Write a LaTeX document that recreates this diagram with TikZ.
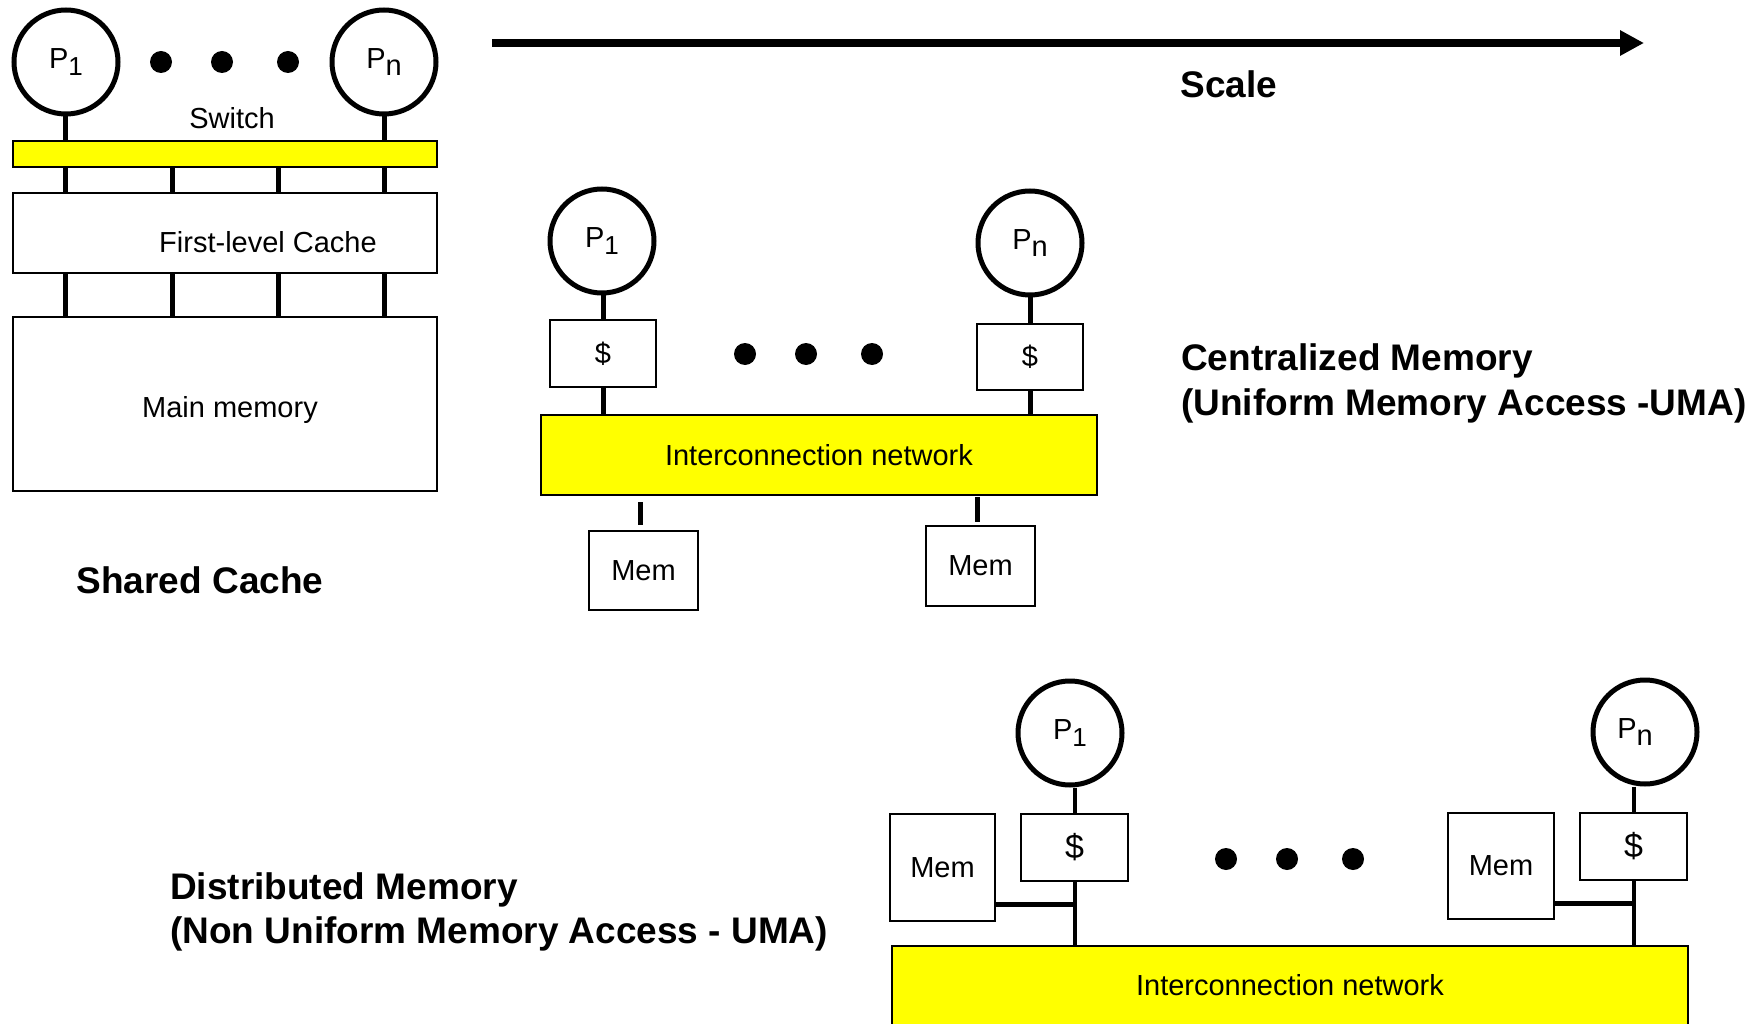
\documentclass[tikz,border=0pt]{standalone}
\usepackage{fontspec}
\setmainfont{Liberation Sans}
\usetikzlibrary{arrows.meta}
\definecolor{netyellow}{RGB}{255,255,0}
\newcommand\regfont{\fontsize{29}{34}\selectfont}
\newcommand\bigfont{\fontsize{34}{40}\selectfont}
\newcommand\ttlfont{\fontsize{37}{45}\selectfont\bfseries}
\newcommand\Pone{P\raisebox{-7pt}{\fontsize{26}{26}\selectfont 1}}
\newcommand\Pnn{P\raisebox{-7pt}{n}}
\tikzset{
  proc/.style={circle, draw, line width=5pt, minimum size=104pt, inner sep=0pt, font=\regfont},
  box/.style={draw, line width=1.5pt, inner sep=0pt, font=\regfont},
  net/.style={box, fill=netyellow},
  wire/.style={line width=5pt},
  thinwire/.style={line width=4pt},
  dot/.style={circle, fill=black, minimum size=22pt, inner sep=0pt},
  lbl/.style={font=\regfont, inner sep=0pt},
  title/.style={font=\ttlfont, inner sep=0pt, anchor=base west},
}
\begin{document}
\begin{tikzpicture}[x=1pt, y=-1pt]
\useasboundingbox (0,0) rectangle (1764,1024);

% ---- shared cache ----
\node[proc] (sp1) at (66,62) {\Pone};
\node[proc] (spn) at (384,62) {\Pnn};
\node[dot] (sd1) at (161,62) {};
\node[dot] (sd2) at (222,62) {};
\node[dot] (sd3) at (288,62) {};
\node[lbl] (swtxt) at (232,118) {Switch};
\node[net, minimum width=424pt, minimum height=26pt] (sw) at (225,154) {};
\node[box, minimum width=424pt, minimum height=80pt] (l1) at (225,233) {};
\node[lbl] (l1txt) at (268,242) {First-level Cache};
\node[box, minimum width=424pt, minimum height=174pt] (mm) at (225,404) {};
\node[lbl] (mmtxt) at (230,410) {Main memory};
\node[font=\ttlfont, inner sep=0pt] (sctitle) at (200,580) {Shared Cache};

\coordinate (t1) at (65,0);
\coordinate (t2) at (172,0);
\coordinate (t3) at (278,0);
\coordinate (t4) at (384,0);
\draw[wire] (t1 |- sp1.south) -- (t1 |- sw.north);
\draw[wire] (t4 |- spn.south) -- (t4 |- sw.north);
\foreach \t in {t1,t2,t3,t4}{
  \draw[wire] (\t |- sw.south) -- (\t |- l1.north);
  \draw[wire] (\t |- l1.south) -- (\t |- mm.north);
}

% ---- scale arrow ----
\coordinate (sa) at (492,43);
\coordinate (sb) at (1644,43);
\draw[line width=8pt, -{Triangle[length=24pt, width=24pt]}] (sa) -- (sb);
\node[font=\ttlfont, inner sep=0pt] (scale) at (1229,84) {Scale};

% ---- centralized memory ----
\node[proc] (cp1) at (602,241) {\Pone};
\node[proc] (cpn) at (1030,243) {\Pnn};
\node[box, minimum width=106pt, minimum height=67pt] (cc1) at (603,353.5) {\$};
\node[box, minimum width=106pt, minimum height=66pt] (ccn) at (1030,357) {\$};
\node[dot] (cd1) at (745,354) {};
\node[dot] (cd2) at (806,354) {};
\node[dot] (cd3) at (872,354) {};
\node[net, minimum width=556pt, minimum height=80pt] (cnet) at (819,455) {Interconnection network};
\node[box, minimum width=109pt, minimum height=79pt] (cm1) at (643.5,570.5) {Mem};
\node[box, minimum width=109pt, minimum height=80pt] (cmn) at (980.5,566) {Mem};
\draw[wire] (cc1.north |- cp1.south) -- (cc1.north);
\draw[wire] (cc1.south) -- (cc1.south |- cnet.north);
\draw[wire] (ccn.north |- cpn.south) -- (ccn.north);
\draw[wire] (ccn.south) -- (ccn.south |- cnet.north);
\coordinate (cw1a) at (640,502);
\coordinate (cw1b) at (640,525);
\coordinate (cwna) at (977,497);
\coordinate (cwnb) at (977,522);
\draw[wire] (cw1a) -- (cw1b);
\draw[wire] (cwna) -- (cwnb);
\node[title] (ctitle1) at (1181,370) {Centralized Memory};
\node[title] (ctitle2) at (1181,415) {(Uniform Memory Access -UMA)};

% ---- distributed memory ----
\node[proc] (dp1) at (1070,733) {\Pone};
\node[proc] (dpn) at (1645,732) {\hspace*{-20pt}\Pnn};
\node[box, minimum width=107pt, minimum height=67pt, font=\bigfont] (dc1) at (1074.5,847.5) {\$};
\node[box, minimum width=107pt, minimum height=67pt, font=\bigfont] (dcn) at (1633.5,846.5) {\$};
\node[box, minimum width=105pt, minimum height=107pt] (dm1) at (942.5,867.5) {Mem};
\node[box, minimum width=106pt, minimum height=106pt] (dmn) at (1501,866) {Mem};
\node[dot] (dd1) at (1226,859) {};
\node[dot] (dd2) at (1287,859) {};
\node[dot] (dd3) at (1353,859) {};
\node[net, minimum width=796pt, minimum height=110pt] (dnet) at (1290,1001) {};
\node[lbl] (dnettxt) at (1290,985) {Interconnection network};
\draw[thinwire] (dc1.north |- dp1.south) -- (dc1.north);
\draw[thinwire] (dc1.south) -- (dc1.south |- dnet.north);
\draw[thinwire] (dcn.north |- dpn.south) -- (dcn.north);
\draw[thinwire] (dcn.south) -- (dcn.south |- dnet.north);
\draw[wire] (dm1.east |- 0,904) -- (dc1.south |- 0,904);
\draw[wire] (dmn.east |- 0,903) -- (dcn.south |- 0,903);
\node[title] (dtitle1) at (170,899) {Distributed Memory};
\node[title] (dtitle2) at (170,943) {(Non Uniform Memory Access - UMA)};
\end{tikzpicture}
\end{document}
